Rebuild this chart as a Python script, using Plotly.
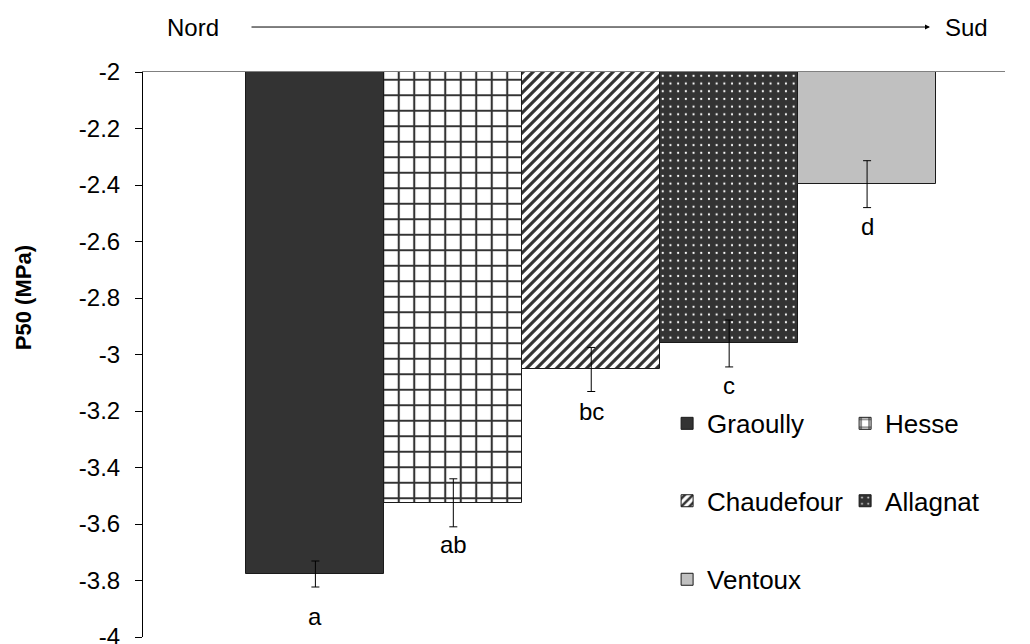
import plotly.graph_objects as go

sites = ["Graoully", "Hesse", "Chaudefour", "Allagnat", "Ventoux"]
p50 = [-3.777, -3.525, -3.053, -2.961, -2.397]
p50_err = [0.046, 0.085, 0.078, 0.083, 0.083]
letters = ["a", "ab", "bc", "c", "d"]
y_ticks = [-2, -2.2, -2.4, -2.6, -2.8, -3, -3.2, -3.4, -3.6, -3.8, -4]
y_ticktext = ["-2", "-2.2", "-2.4", "-2.6", "-2.8", "-3", "-3.2", "-3.4", "-3.6", "-3.8", "-4"]

FONT = "Liberation Sans, Arial, sans-serif"

styles = {
    "Graoully": dict(color="#333333"),
    "Hesse": dict(color="white", pattern=dict(shape="+", fgcolor="#333333", bgcolor="white",
                                              size=15.5, solidity=0.25, fillmode="replace")),
    "Chaudefour": dict(color="white", pattern=dict(shape="/", fgcolor="#333333", bgcolor="white",
                                                   size=7.07, solidity=0.45, fillmode="replace")),
    "Allagnat": dict(color="#333333", pattern=dict(shape=".", fgcolor="white", bgcolor="#333333",
                                                   size=7.7, solidity=0.065, fillmode="replace")),
    "Ventoux": dict(color="#c0c0c0"),
}
legend_of = {"Graoully": "legend", "Hesse": "legend", "Chaudefour": "legend2",
             "Allagnat": "legend2", "Ventoux": "legend3"}

fig = go.Figure()
for i, s in enumerate(sites):
    st = styles[s]
    marker = dict(color=st["color"], line=dict(color="#1a1a1a", width=1))
    if "pattern" in st:
        marker["pattern"] = st["pattern"]
    fig.add_trace(go.Bar(
        x=[i], y=[p50[i]], name=s, width=1.0, marker=marker,
        error_y=dict(type="data", array=[p50_err[i]], color="black", thickness=1, width=4),
        legend=legend_of[s], showlegend=True,
    ))
    fig.add_annotation(x=i, y=p50[i], text=letters[i], showarrow=False, yshift=-42,
                       xanchor="center", yanchor="middle",
                       font=dict(family=FONT, size=24, color="black"))

# Nord -> Sud header
fig.add_annotation(xref="paper", yref="paper", x=0.058, y=1.0796, text="Nord", showarrow=False,
                   xanchor="center", yanchor="middle",
                   font=dict(family=FONT, size=24, color="black"))
fig.add_annotation(xref="paper", yref="paper", x=0.955, y=1.0796, text="Sud", showarrow=False,
                   xanchor="center", yanchor="middle",
                   font=dict(family=FONT, size=24, color="black"))
fig.add_annotation(xref="paper", yref="paper", x=0.913, y=1.0796, ax=-680, ay=0, text="",
                   showarrow=True, arrowhead=2, arrowsize=1, arrowwidth=1, arrowcolor="black")

# y-axis title
fig.add_annotation(xref="paper", yref="paper", x=-0.139, y=0.6, text="<b>P50 (MPa)</b>",
                   showarrow=False, textangle=-90, xanchor="center", yanchor="middle",
                   font=dict(family=FONT, size=22, color="black"))

leg_common = dict(orientation="h", font=dict(family=FONT, size=26, color="black"),
                  entrywidth=133, entrywidthmode="pixels", bgcolor="rgba(0,0,0,0)",
                  xanchor="left", yanchor="middle", x=0.608)
fig.update_layout(
    width=1022, height=636,
    margin=dict(l=135, r=25, t=64, b=7, autoexpand=False),
    plot_bgcolor="white", paper_bgcolor="white",
    barmode="overlay", bargap=0,
    font=dict(family=FONT, color="black"),
    legend=dict(**leg_common, y=0.378),
    legend2=dict(**leg_common, y=0.241),
    legend3=dict(**leg_common, y=0.102),
    xaxis=dict(range=[-1.25, 5.0], side="top", showline=True, linecolor="#808080", linewidth=1,
               showticklabels=False, ticks="", showgrid=False, zeroline=False, automargin=False),
    yaxis=dict(range=[-4, -2], tickvals=y_ticks, ticktext=y_ticktext, ticks="outside", ticklen=7,
               tickcolor="black", showline=True, linecolor="black", linewidth=1, showgrid=False,
               zeroline=False, tickfont=dict(family=FONT, size=24, color="black"),
               ticklabelstandoff=10, ticklabeloverflow="allow", automargin=False),
)

fig.write_html("out.html")
